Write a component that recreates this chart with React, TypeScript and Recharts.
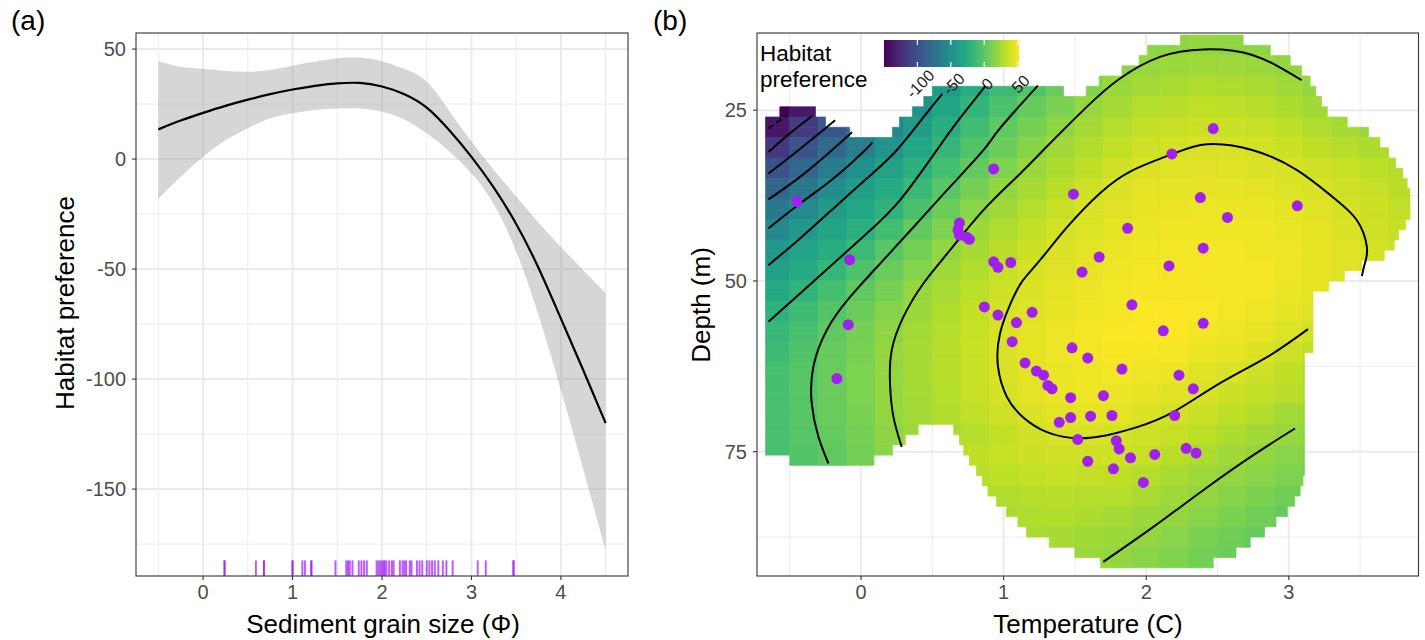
import React from 'react';
import {
  ComposedChart,
  XAxis,
  YAxis,
  CartesianGrid,
  Area,
  Line,
  Scatter,
  ReferenceArea,
  ReferenceLine,
} from 'recharts';

const FONT = '"Liberation Sans", Arial, Helvetica, sans-serif';
const PURPLE = '#A020F0';

// ---------------- Panel (a): smooth of habitat preference vs grain size ----------------
const grainSize = [-0.5, -0.25, 0, 0.25, 0.5, 0.75, 1, 1.25, 1.5, 1.75, 2, 2.25, 2.5, 2.75, 3, 3.25, 3.5, 3.75, 4, 4.25, 4.5];
const prefFit = [13.5, 17.5, 21, 24.2, 27, 29.5, 31.6, 33.3, 34.4, 34.6, 33, 29.5, 23.4, 13.2, 1, -13, -29.5, -49.5, -72.5, -96, -120];
const prefLower = [-18, -8, 1, 8.5, 14, 18.5, 20.8, 22.3, 23, 23, 21.5, 18, 11.7, 3.5, -6.5, -20.5, -42, -71, -105, -141, -178];
const prefUpper = [44.5, 42, 41, 40, 39.7, 40.5, 42.4, 44.3, 45.8, 46.2, 44.5, 41, 35.1, 22, 8, -5, -17, -29, -40, -50.5, -61];
const rugGrain = [
  0.24, 0.24, 0.59, 0.68, 0.68, 1.0, 1.0, 1.11, 1.14, 1.21, 1.21, 1.48, 1.6, 1.62, 1.64, 1.67, 1.74, 1.77, 1.8, 1.83,
  1.94, 1.96, 1.98, 2.0, 2.02, 2.03, 2.05, 2.08, 2.11, 2.13, 2.2, 2.23, 2.25, 2.27, 2.31, 2.33, 2.39, 2.42, 2.45,
  2.5, 2.53, 2.56, 2.59, 2.63, 2.68, 2.72, 2.79, 3.07, 3.16, 3.47, 3.47,
];
const grainTicks = [0, 1, 2, 3, 4];
const grainMinor = [-0.5, 0.5, 1.5, 2.5, 3.5, 4.5];
const prefTicks = [-150, -100, -50, 0, 50];
const prefMinor = [-175, -125, -75, -25, 25];

// ---------------- Panel (b): habitat preference surface over temperature x depth ----------------
const tempTicks = [0, 1, 2, 3];
const tempMinor = [-0.5, 0.5, 1.5, 2.5, 3.5];
const depthTicks = [25, 50, 75];
const depthMinor = [37.5, 62.5, 87.5];
const colorbarTicks = [-100, -50, 0, 50];

// grid of the surface: column centres (temperature) and row bands (depth, 3 m from 14 m)
const heatTemps = [-0.6, -0.4, -0.2, 0, 0.2, 0.4, 0.6, 0.8, 1.0, 1.2, 1.4, 1.6, 1.8, 2.0, 2.2, 2.4, 2.6, 2.8, 3.0, 3.2, 3.4, 3.6, 3.8];
const heatDepthTop = [14, 17, 20, 23, 26, 29, 32, 35, 38, 41, 44, 47, 50, 53, 56, 59, 62, 65, 68, 71, 74, 77, 80, 83, 86, 89];
const _ = null;
const heatValues: (number | null)[][] = [
  [_, _, _, _, _, _, _, _, _, _, _, _, 13, 16, 18, 19, 18, 17, 15, _, _, _, _],
  [_, _, _, _, _, _, _, _, _, _, _, _, 17, 20, 22, 23.5, 23, 21.5, 18.5, 15, _, _, _],
  [_, _, _, _, _, -54, -40, -26, -14, -4, 5, 14, 21, 24, 26, 28, 27, 26, 23, 19, _, _, _],
  [-150, -136, -114, -93, -72, -49, -32, -18, -6, 4, 12, 20, 25, 29, 30.5, 32, 31.5, 30, 27, 23.5, 20, _, _],
  [-138, -116, -96, -78, -57, -39, -24, -11, 1, 10, 18, 24.5, 29, 33, 35, 36.5, 36, 34.5, 31.5, 28, 24.5, 21, _],
  [-118, -98, -81, -64, -46, -30, -17, -4, 6, 15.5, 23, 28.5, 33.5, 37, 39, 40.5, 40.3, 39, 36, 32, 29, 27, 25],
  [-100, -84, -67, -50, -35, -22, -9, 3, 12.5, 21, 27, 32.5, 37.5, 41.5, 42.5, 43, 42.5, 41.5, 40.3, 37.5, 34.5, 31.5, 28.5],
  [-84, -69, -53, -38, -27, -15, -1, 9.5, 19.5, 25, 31, 37, 41, 43.5, 44.5, 45, 45, 44, 42, 40.3, 37.5, 34.5, 31],
  [-69, -54, -40, -30, -20.5, -6, 6, 16.5, 23, 29, 35, 40.5, 43, 45.5, 46.5, 47, 46.5, 46, 44.5, 42.5, 40, 36.5, 33],
  [-56, -43, -32.5, -23, -10.5, 2.5, 12.5, 21.5, 27.5, 33, 39, 42, 44.5, 46.5, 47.5, 48, 48, 47.5, 46, 44, 41.5, 37.5, 34.5],
  [-43, -34, -25, -14, -1, 9, 19, 25, 31, 36.5, 41, 43.5, 46, 47.5, 48.5, 49, 48.5, 48, 47, 45, 42.5, 39, 36],
  [-36, -27, -17, -5, 5, 15, 22.5, 28.5, 34.5, 40, 43, 45.5, 47.5, 49, 49.5, 49.5, 49, 48.5, 47, 45, 42.5, 38.5, 35],
  [-28, -19.5, -8.5, 2, 11, 20, 25.5, 31.5, 37.5, 41.5, 44, 46.5, 48.5, 50, 50.5, 50, 49.5, 48.5, 46, 44, 41, _, _],
  [-21, -12, -2.5, 6.5, 15, 22, 28, 34, 39.5, 42.5, 45, 47.5, 49.5, 51, 51.5, 51, 49, 47, 44.5, 42, _, _, _],
  [-16, -7, 2, 10, 18, 24, 29.5, 35, 40.5, 44, 47, 49.5, 51, 52, 51.5, 49, 47, 45, 42, 38, _, _, _],
  [-12, -4, 4, 11.5, 19.5, 25, 30, 35.5, 40.5, 44, 47, 49, 50.5, 50, 48.5, 46.5, 44.5, 41.5, 37, 33, _, _, _],
  [-8, -2, 5, 12.5, 19.5, 25, 30, 35.5, 40.5, 44, 46.5, 48, 49, 48, 46, 43, 40.5, 37, 32, 28, _, _, _],
  [-7.5, -2, 5, 12.5, 19.5, 24.5, 29.5, 34.5, 39.5, 43.5, 46.5, 47, 46.5, 45, 43, 40, 36.5, 33.5, 30.5, 27, _, _, _],
  [-7, -1, 5, 12, 19, 24, 28.5, 33, 37.5, 41, 43.5, 44.5, 44, 41.5, 38.5, 36, 32, 28.5, 24, 21, _, _, _],
  [-7, -2, 3.5, 10.5, 18, 22.5, 26, 30, 34, 38, 40.5, 40.5, 39, 37.5, 35, 31.5, 27, 23.5, 20, 17, _, _, _],
  [-8, -3, 2, 9, 16.5, 21.5, 28, 32, 34.5, 36.5, 37.5, 37.5, 37, 35, 31, 27, 23, 19.5, 16, 13, _, _, _],
  [_, _, _, _, _, _, _, 30, 31.5, 33.5, 34.5, 34, 32.5, 29.5, 26, 22.5, 19, 16, 12.5, 9, _, _, _],
  [_, _, _, _, _, _, _, 27, 28, 29.5, 30, 29.5, 29, 26, 22.5, 19, 15.5, 12, 8, _, _, _, _],
  [_, _, _, _, _, _, _, _, 26, 28, 28.5, 27, 24.5, 22, 19.5, 16, 12, 8, 4, _, _, _, _],
  [_, _, _, _, _, _, _, _, _, 26, 25, 23.5, 21.5, 19, 16, 12, 8, 4, _, _, _, _, _],
  [_, _, _, _, _, _, _, _, _, _, 24, 21.5, 19, 16, 13, 9, 6, _, _, _, _, _, _],
];

// extent of the predicted surface: depth strip [top, bottom] and temperature segments
const maskStrips: [number, number, [number, number][]][] = [
  [14, 15.5, [[2.24, 2.68]]],
  [15.5, 17, [[2.01, 2.87]]],
  [17, 18.5, [[1.95, 3.01]]],
  [18.5, 20, [[1.83, 3.09]]],
  [20, 21.5, [[1.67, 3.15]]],
  [21.5, 23, [[0.5, 1.42], [1.58, 3.19]]],
  [23, 24.5, [[0.44, 3.23]]],
  [24.5, 26, [[-0.57, -0.32], [0.36, 3.27]]],
  [26, 27.5, [[-0.67, -0.25], [0.27, 3.41]]],
  [27.5, 29, [[-0.67, -0.08], [0.22, 3.56]]],
  [29, 30.5, [[-0.67, 3.64]]],
  [30.5, 32, [[-0.67, 3.7]]],
  [32, 33.5, [[-0.67, 3.75]]],
  [33.5, 35, [[-0.67, 3.8]]],
  [35, 36.5, [[-0.67, 3.83]]],
  [36.5, 38, [[-0.67, 3.85]]],
  [38, 39.5, [[-0.67, 3.85]]],
  [39.5, 41, [[-0.67, 3.85]]],
  [41, 42.5, [[-0.67, 3.82]]],
  [42.5, 44, [[-0.67, 3.77]]],
  [44, 45.5, [[-0.67, 3.74]]],
  [45.5, 47, [[-0.67, 3.67]]],
  [47, 48.5, [[-0.67, 3.51]]],
  [48.5, 50, [[-0.67, 3.39]]],
  [50, 51.5, [[-0.67, 3.28]]],
  [51.5, 53, [[-0.67, 3.17]]],
  [53, 54.5, [[-0.67, 3.17]]],
  [54.5, 56, [[-0.67, 3.17]]],
  [56, 57.5, [[-0.67, 3.17]]],
  [57.5, 59, [[-0.67, 3.17]]],
  [59, 60.5, [[-0.67, 3.17]]],
  [60.5, 62, [[-0.67, 3.11]]],
  [62, 63.5, [[-0.67, 3.11]]],
  [63.5, 65, [[-0.67, 3.11]]],
  [65, 66.5, [[-0.67, 3.11]]],
  [66.5, 68, [[-0.67, 3.11]]],
  [68, 69.5, [[-0.67, 3.11]]],
  [69.5, 71, [[-0.67, 3.11]]],
  [71, 72.5, [[-0.67, 0.4], [0.65, 3.11]]],
  [72.5, 74, [[-0.67, 0.31], [0.69, 3.11]]],
  [74, 75.5, [[-0.67, 0.22], [0.72, 3.11]]],
  [75.5, 77, [[-0.5, 0.09], [0.76, 3.11]]],
  [77, 78.5, [[0.81, 3.11]]],
  [78.5, 80, [[0.85, 3.1]]],
  [80, 81.5, [[0.89, 3.08]]],
  [81.5, 83, [[0.95, 3.04]]],
  [83, 84.5, [[1.02, 2.99]]],
  [84.5, 86, [[1.1, 2.91]]],
  [86, 87.5, [[1.16, 2.83]]],
  [87.5, 89, [[1.32, 2.73]]],
  [89, 90.5, [[1.5, 2.63]]],
  [90.5, 92, [[1.68, 2.47]]],
];

// contour lines (temperature, depth)
const contour40: [number, number][] = [
  [3.135, 57.06], [2.847, 61.16], [2.518, 64.97], [2.188, 69.22], [1.936, 71.41], [1.724, 72.58], [1.515, 73.02],
  [1.304, 72.14], [1.136, 69.95], [1.024, 67.02], [0.961, 62.63], [0.975, 57.65], [1.059, 52.82], [1.136, 49.89],
  [1.255, 46.96], [1.445, 42.13], [1.676, 37.15], [1.907, 33.78], [2.181, 31.44], [2.426, 29.98], [2.749, 30.86],
  [3.058, 33.78], [3.31, 37.74], [3.478, 41.11], [3.548, 45.06], [3.534, 47.4], [3.513, 49.3],
];
const contour20: [number, number][] = [
  [0.285, 74.3], [0.227, 69.91], [0.203, 65.01], [0.215, 60.14], [0.297, 55.26], [0.437, 50.37], [0.624, 45.5],
  [0.858, 39.64], [1.092, 34.77], [1.3, 30.4], [1.583, 24.52], [1.816, 20.36], [2.097, 17.2], [2.4, 16.11],
  [2.749, 16.95], [3.09, 20.61],
];
const contour20b: [number, number][] = [[1.699, 91.13], [2.05, 86.01], [2.4, 80.64], [2.751, 75.51], [3.044, 71.6]];
const contour0: [number, number][] = [
  [-0.229, 76.73], [-0.299, 72.83], [-0.346, 67.94], [-0.335, 62.58], [-0.241, 57.21], [-0.077, 52.34], [0.156, 46.96],
  [0.391, 41.59], [0.624, 36.23], [0.858, 30.86], [0.975, 27.64], [1.24, 21.4],
];
const contourM20: [number, number][] = [
  [-0.65, 55.99], [-0.428, 51.84], [-0.194, 47.45], [0.04, 43.05], [0.273, 38.18], [0.531, 30.86], [0.694, 26.17], [0.87, 21.5],
];
const contourM40: [number, number][] = [
  [-0.65, 47.69], [-0.428, 43.78], [-0.194, 39.39], [0.04, 35.0], [0.25, 30.86], [0.449, 25.73], [0.57, 22.6],
];
const contourM60: [number, number][] = [[-0.65, 42.32], [-0.428, 38.66], [-0.194, 35.0], [0.028, 30.86], [0.077, 29.69]];
const contourM80: [number, number][] = [[-0.65, 38.07], [-0.428, 34.77], [-0.205, 30.86], [-0.063, 28.22]];
const contourM100: [number, number][] = [[-0.65, 34.27], [-0.44, 30.86], [-0.182, 26.46]];
const contourM120: [number, number][] = [[-0.65, 31.11], [-0.498, 28.37], [-0.346, 25.88]];
const contourM140: [number, number][] = [[-0.65, 27.68], [-0.521, 25.73]];

// observation locations
const obsTemp = [
  -0.45, 0.93, 0.69, 0.68, 0.69, 0.74, 0.76, -0.08, 0.93, 0.96, 1.05, -0.09, 0.865, 0.96, 1.09, 1.2, 1.06, -0.17, 1.15,
  1.23, 1.28, 1.31, 1.34, 1.47, 1.39, 1.47, 1.52, 1.59, 1.61, 1.7, 1.76, 1.79, 1.81, 1.77, 1.89, 1.98, 2.06, 1.48, 1.59,
  1.83, 1.9, 2.12, 2.4, 2.23, 2.33, 2.2, 2.28, 2.35, 2.18, 1.49, 2.38, 2.57, 1.87, 2.4, 1.67, 1.55, 2.16, 2.47, 3.06,
];
const obsDepth = [
  38.4, 33.6, 41.5, 42.5, 43.3, 43.6, 43.9, 46.9, 47.2, 48.0, 47.3, 56.4, 53.8, 55.0, 56.1, 54.6, 58.9, 64.3, 62.0,
  63.2, 63.8, 65.3, 65.8, 67.1, 70.7, 70.0, 73.2, 76.4, 69.8, 66.8, 69.7, 73.4, 74.6, 77.5, 75.9, 79.5, 75.4, 59.8, 61.3,
  62.9, 53.5, 57.3, 56.2, 63.8, 65.8, 69.7, 74.5, 75.2, 31.4, 37.3, 37.8, 40.7, 42.3, 45.2, 46.5, 48.7, 47.8, 27.7, 39.0,
];

// ---------------- colour scale ----------------
const COLOR_MIN = -150;
const COLOR_MAX = 52;
const VIRIDIS = ['#440154', '#482475', '#414487', '#355f8d', '#2a788e', '#21918c', '#22a884', '#44bf70', '#7ad151', '#bddf26', '#fde725'];
const VIR_RGB = VIRIDIS.map((h) => [parseInt(h.slice(1, 3), 16), parseInt(h.slice(3, 5), 16), parseInt(h.slice(5, 7), 16)]);
function viridis(v: number): string {
  const t = Math.max(0, Math.min(1, (v - COLOR_MIN) / (COLOR_MAX - COLOR_MIN)));
  const p = t * (VIR_RGB.length - 1);
  const i = Math.min(VIR_RGB.length - 2, Math.floor(p));
  const f = p - i;
  const a = VIR_RGB[i];
  const b = VIR_RGB[i + 1];
  const c = a.map((x, k) => Math.round(x + (b[k] - x) * f));
  return `rgb(${c[0]},${c[1]},${c[2]})`;
}
function cellValue(r: number, c: number): number | null {
  const row = heatValues[r];
  if (!row) return null;
  if (row[c] != null) return row[c];
  for (let k = 1; k < row.length; k++) {
    if (c - k >= 0 && row[c - k] != null) return row[c - k];
    if (c + k < row.length && row[c + k] != null) return row[c + k];
  }
  return null;
}

const toPts = (arr: [number, number][]) => arr.map(([t, d]) => ({ t, d }));

export default function App() {
  const aData = grainSize.map((x, i) => ({ x, fit: prefFit[i], band: [prefLower[i], prefUpper[i]] }));
  const tickStyle = { fill: '#4d4d4d', fontSize: 20, fontFamily: FONT };
  const tickLine = { stroke: '#333333', strokeWidth: 1.1 };

  const half = (heatTemps[1] - heatTemps[0]) / 2;
  const cells: { x1: number; x2: number; y1: number; y2: number; color: string }[] = [];
  maskStrips.forEach(([d0, d1, segs]) => {
    let r = 0;
    heatDepthTop.forEach((top, i) => {
      if (d0 + 1e-6 >= top) r = i;
    });
    segs.forEach(([a, b]) => {
      heatTemps.forEach((tc, c) => {
        const lo = Math.max(a, tc - half);
        const hi = Math.min(b, tc + half);
        if (hi - lo <= 1e-6) return;
        const v = cellValue(r, c);
        if (v == null) return;
        cells.push({ x1: lo, x2: hi, y1: d0, y2: d1, color: viridis(v) });
      });
    });
  });

  const contours = [
    { pts: contour40, dash: undefined },
    { pts: contour20, dash: undefined },
    { pts: contour20b, dash: undefined },
    { pts: contour0, dash: undefined },
    { pts: contourM20, dash: undefined },
    { pts: contourM40, dash: undefined },
    { pts: contourM60, dash: undefined },
    { pts: contourM80, dash: undefined },
    { pts: contourM100, dash: undefined },
    { pts: contourM120, dash: undefined },
    { pts: contourM140, dash: '6 4' },
  ];
  const obs = obsTemp.map((t, i) => ({ t, d: obsDepth[i] }));

  // colourbar geometry (legend)
  const cbX0 = 884;
  const cbX1 = 1019;
  const cbY0 = 40;
  const cbY1 = 67;
  const cbPos = (v: number) => cbX0 + ((v - COLOR_MIN) / (COLOR_MAX - COLOR_MIN)) * (cbX1 - cbX0);

  return (
    <div style={{ position: 'absolute', left: 0, top: 0, width: 1425, height: 640, background: '#ffffff', fontFamily: FONT }}>
      <div style={{ position: 'absolute', left: 0, top: 0 }}>
        <ComposedChart width={640} height={640} data={aData} margin={{ top: 33, right: 12, bottom: 24, left: 86 }}>
          <CartesianGrid verticalValues={grainMinor} horizontalValues={prefMinor} stroke="#ebebeb" strokeWidth={1} />
          <CartesianGrid verticalValues={grainTicks} horizontalValues={prefTicks} stroke="#ebebeb" strokeWidth={2} />
          <XAxis
            dataKey="x"
            type="number"
            domain={[-0.75, 4.75]}
            ticks={grainTicks}
            allowDataOverflow
            height={40}
            tickSize={4}
            tickMargin={5}
            axisLine={false}
            tickLine={tickLine}
            tick={tickStyle}
          />
          <YAxis
            type="number"
            domain={[-189.5, 57.3]}
            ticks={prefTicks}
            allowDataOverflow
            width={50}
            tickSize={4}
            tickMargin={6}
            axisLine={false}
            tickLine={tickLine}
            tick={tickStyle}
          />
          <Area dataKey="band" type="natural" fill="#999999" fillOpacity={0.4} stroke="none" isAnimationActive={false} />
          <Line dataKey="fit" type="natural" stroke="#000000" strokeWidth={2.2} dot={false} activeDot={false} isAnimationActive={false} />
          {rugGrain.map((g, i) => (
            <ReferenceLine
              key={`rug${i}`}
              segment={[{ x: g, y: -189.4 }, { x: g, y: -182.4 }]}
              stroke={PURPLE}
              strokeOpacity={0.72}
              strokeWidth={2}
              ifOverflow="visible"
            />
          ))}
        </ComposedChart>
      </div>

      <div style={{ position: 'absolute', left: 640, top: 0 }}>
        <ComposedChart width={785} height={640} margin={{ top: 33, right: 6.5, bottom: 24, left: 67 }}>
          <CartesianGrid verticalValues={tempMinor} horizontalValues={depthMinor} stroke="#ebebeb" strokeWidth={1} />
          <CartesianGrid verticalValues={tempTicks} horizontalValues={depthTicks} stroke="#ebebeb" strokeWidth={2} />
          <XAxis
            dataKey="t"
            type="number"
            domain={[-0.73, 3.91]}
            ticks={tempTicks}
            allowDataOverflow
            height={40}
            tickSize={4}
            tickMargin={5}
            axisLine={false}
            tickLine={tickLine}
            tick={tickStyle}
          />
          <YAxis
            dataKey="d"
            type="number"
            reversed
            domain={[13.7, 93.2]}
            ticks={depthTicks}
            allowDataOverflow
            width={50}
            tickSize={4}
            tickMargin={6}
            axisLine={false}
            tickLine={tickLine}
            tick={tickStyle}
          />
          {cells.map((c, i) => (
            <ReferenceArea
              key={`cell${i}`}
              x1={c.x1}
              x2={c.x2}
              y1={c.y1}
              y2={c.y2}
              fill={c.color}
              fillOpacity={1}
              stroke={c.color}
              strokeWidth={0.7}
              ifOverflow="visible"
            />
          ))}
          {contours.map((c, i) => (
            <Line
              key={`ct${i}`}
              data={toPts(c.pts)}
              dataKey="d"
              type="natural"
              stroke="#000000"
              strokeWidth={2}
              strokeDasharray={c.dash}
              dot={false}
              activeDot={false}
              isAnimationActive={false}
            />
          ))}
          <Scatter
            data={obs}
            dataKey="d"
            isAnimationActive={false}
            shape={(p: any) => <circle cx={p.cx} cy={p.cy} r={5.5} fill={PURPLE} />}
          />
        </ComposedChart>
      </div>

      <svg width={1425} height={640} style={{ position: 'absolute', left: 0, top: 0, pointerEvents: 'none' }}>
        <defs>
          <linearGradient id="viridisBar" x1="0" x2="1" y1="0" y2="0">
            {VIRIDIS.map((c, i) => (
              <stop key={c} offset={`${(i / (VIRIDIS.length - 1)) * 100}%`} stopColor={c} />
            ))}
          </linearGradient>
        </defs>
        {/* panel borders */}
        <rect x={136} y={33} width={492} height={543} fill="none" stroke="#333333" strokeWidth={1.1} />
        <rect x={757} y={33} width={661.5} height={543} fill="none" stroke="#333333" strokeWidth={1.1} />

        {/* tags */}
        <text x={11} y={30} fontSize={28} fontFamily={FONT} fill="#000">(a)</text>
        <text x={653} y={30} fontSize={28} fontFamily={FONT} fill="#000">(b)</text>

        {/* axis titles */}
        <text x={383} y={633} fontSize={26} fontFamily={FONT} textAnchor="middle" fill="#000">Sediment grain size (Φ)</text>
        <text transform="translate(74,303) rotate(-90)" fontSize={26} fontFamily={FONT} textAnchor="middle" fill="#000">Habitat preference</text>
        <text x={1088} y={633} fontSize={26} fontFamily={FONT} textAnchor="middle" fill="#000">Temperature (C)</text>
        <text transform="translate(710,305) rotate(-90)" fontSize={26} fontFamily={FONT} textAnchor="middle" fill="#000">Depth (m)</text>

        {/* legend */}
        <text x={760} y={61} fontSize={22.5} fontFamily={FONT} fill="#000">Habitat</text>
        <text x={760} y={86.5} fontSize={22.5} fontFamily={FONT} fill="#000">preference</text>
        <rect x={cbX0} y={cbY0} width={cbX1 - cbX0} height={cbY1 - cbY0} fill="url(#viridisBar)" />
        {colorbarTicks.map((v) => (
          <g key={`cbt${v}`}>
            <line x1={cbPos(v)} x2={cbPos(v)} y1={cbY0} y2={cbY0 + 5} stroke="#ffffff" strokeWidth={1.2} />
            <line x1={cbPos(v)} x2={cbPos(v)} y1={cbY1 - 5} y2={cbY1} stroke="#ffffff" strokeWidth={1.2} />
            <text
              transform={`translate(${cbPos(v) + 3},${84}) rotate(-45)`}
              fontSize={16}
              fontFamily={FONT}
              textAnchor="middle"
              dominantBaseline="central"
              fill="#1a1a1a"
            >
              {v}
            </text>
          </g>
        ))}
      </svg>
    </div>
  );
}
